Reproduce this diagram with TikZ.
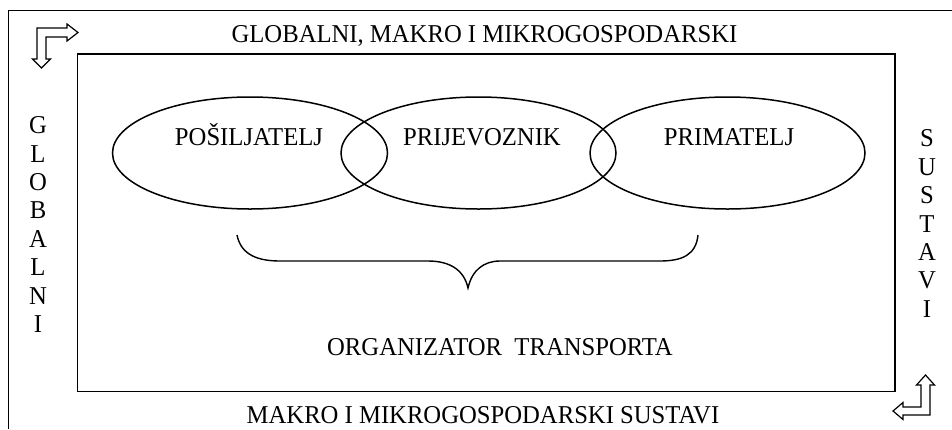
\documentclass[tikz,border=0pt]{standalone}
\usepackage{fontspec}
\setmainfont{Liberation Serif}[FakeStretch=0.96]
\usetikzlibrary{shapes.geometric}

\begin{document}
\begin{tikzpicture}[x=1pt,y=-1pt,
    krug/.style={draw,ellipse,line width=1.5pt,minimum width=275pt,minimum height=112pt,inner sep=0pt},
    natpis/.style={font=\fontsize{25.7}{28.4}\selectfont,inner sep=0pt},
    okvir/.style={line width=1.9pt},
    strelica/.style={draw,line width=1.2pt,fill=white,line join=miter}]
    \useasboundingbox (0,0) rectangle (952,429);
    % okviri
    \draw[okvir] (8.5,429) -- (8.5,10.5) -- (952,10.5);
    \draw[okvir] (77.5,54) rectangle (895,391.5);
    % strelice u kutovima
    \draw[strelica]
      (37,28) -- (67,28) -- (67,24) -- (78,32.5) -- (67,41) -- (67,37) --
      (46,37) -- (46,59) -- (50.5,59) -- (41.5,68) -- (32.5,59) -- (37,59) -- cycle;
    \draw[strelica]
      (930,415) -- (903,415) -- (903,419.5) -- (893,411) -- (903,402.5) -- (903,407) --
      (921,407) -- (921,385) -- (916.5,385) -- (925.5,375) -- (934.5,385) -- (930,385) -- cycle;
    % sudionici
    \node[krug] (S1) at (250,153) {};
    \node[krug] (S2) at (478.5,153) {};
    \node[krug] (S3) at (727.5,153) {};
    \node[natpis,anchor=base] (S1t) at (249,145) {POŠILJATELJ};
    \node[natpis,anchor=base] (S2t) at (482,145) {PRIJEVOZNIK};
    \node[natpis,anchor=base] (S3t) at (729,145) {PRIMATELJ};
    % zagrada
    \draw[line width=1.4pt]
      (237,235) .. controls (241,255) and (258,261) .. (280,261) -- (428,261)
      .. controls (450,261) and (464,270) .. (468,288)
      .. controls (472,270) and (484,261) .. (500,261) -- (660,261)
      .. controls (682,261) and (696,255) .. (698,235);
    \node[natpis,anchor=base] (OT) at (500,355) {ORGANIZATOR\ \ TRANSPORTA};
    % sustavi
    \node[natpis,anchor=base] (GMM) at (484.5,42) {GLOBALNI, MAKRO I MIKROGOSPODARSKI};
    \node[natpis,anchor=base] (MMS) at (483,423) {MAKRO I MIKROGOSPODARSKI SUSTAVI};
    \node[natpis,align=center] (GL) at (38,224.5) {G\\L\\O\\B\\A\\L\\N\\I};
    \node[natpis,align=center] (SU) at (927,223.5) {S\\U\\S\\T\\A\\V\\I};
\end{tikzpicture}
\end{document}
